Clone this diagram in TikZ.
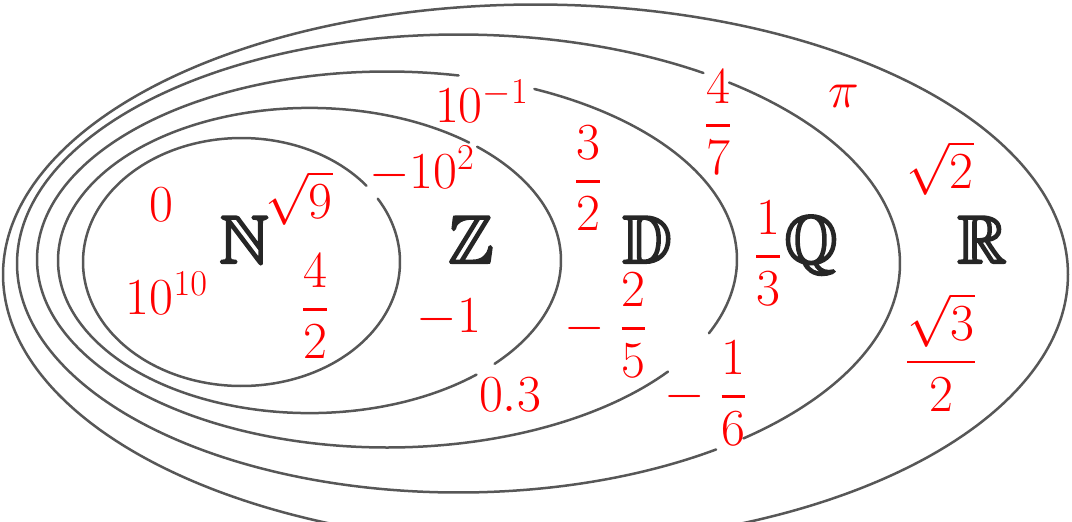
\RequirePackage{fix-cm}
\documentclass[tikz,border=0pt]{standalone}
\usepackage{amsmath}
\usepackage{amssymb}
\newcommand\myarc[7][]{%
  \draw[ell,#1] plot[domain=#6:#7, samples=160, smooth, variable=\t]
    ({#2+#4*cos(\t)},{#3-#5*sin(\t)});}
\newcommand\heavybb[1]{\special{pdf:literal direct 2 Tr 1.1 w}$\mathbb{#1}$\special{pdf:literal direct 0 Tr}}
\begin{document}
\begin{tikzpicture}[x=0.5pt,y=-0.5pt,
  ell/.style={line width=1.25pt, draw=black!66, line cap=round},
  lab/.style={text=red, inner sep=0pt, font=\fontsize{26}{30}\selectfont},
  bbl/.style={text=black!85, inner sep=0pt, anchor=base, font=\fontsize{34}{40}\selectfont}]
\useasboundingbox (0,0) rectangle (1072,521);
\clip (0,0) rectangle (1072,521);

% N
\myarc{241.5}{262}{158.5}{124}{37.9}{390.7}
% Z
\myarc{309.5}{260.5}{251.5}{152.6}{50.6}{311.6}
\myarc{309.5}{260.5}{251.5}{152.6}{317.4}{408.2}
% D
\myarc{387}{259.5}{350}{188}{78.2}{323.4}
\myarc{387}{259.5}{350}{188}{336.9}{425.1}
% Q
\myarc{458.5}{263.5}{441.5}{229}{56.3}{305.7}
\myarc{458.5}{263.5}{441.5}{229}{310.2}{412.2}
% R
\myarc{535.5}{274.5}{532.5}{270}{0}{360}

% set letters
\node[bbl] (N) at (244,263) {\heavybb{N}};
\node[bbl] (Z) at (471,263) {\heavybb{Z}};
\node[bbl] (D) at (647,263) {\heavybb{D}};
\node[bbl] (Q) at (811,263) {\heavybb{Q}};
\node[bbl] (R) at (982,263) {\heavybb{R}};

% numbers
\node[lab] (n0) at (161,205) {$0$};
\node[lab] (n1010) at (167,293) {$10^{10}$};
\node[lab] (sq9) at (299,198) {$\sqrt{9}$};
\node[lab] (f42) at (315,306) {$\dfrac{4}{2}$};
\node[lab] (m102) at (422,169) {$-10^2$};
\node[lab] (m1) at (449,318) {$-1$};
\node[lab] (d03) at (510,395) {$0.3$};
\node[lab] (tm1) at (482,101) {$10^{-1}$};
\node[lab] (f32) at (588,178) {$\dfrac{3}{2}$};
\node[lab] (mf25) at (606,325) {$-\;\dfrac{2}{5}$};
\node[lab] (f47) at (718,122) {$\dfrac{4}{7}$};
\node[lab] (pi) at (844,96) {$\pi$};
\node[lab] (f13) at (768,253) {$\dfrac{1}{3}$};
\node[lab] (mf16) at (706,393) {$-\;\dfrac{1}{6}$};
\node[lab] (sq2) at (940,168) {$\sqrt{2}$};
\node[lab] (fs32) at (941,352) {$\dfrac{\sqrt{3}}{2}$};
\end{tikzpicture}
\end{document}
